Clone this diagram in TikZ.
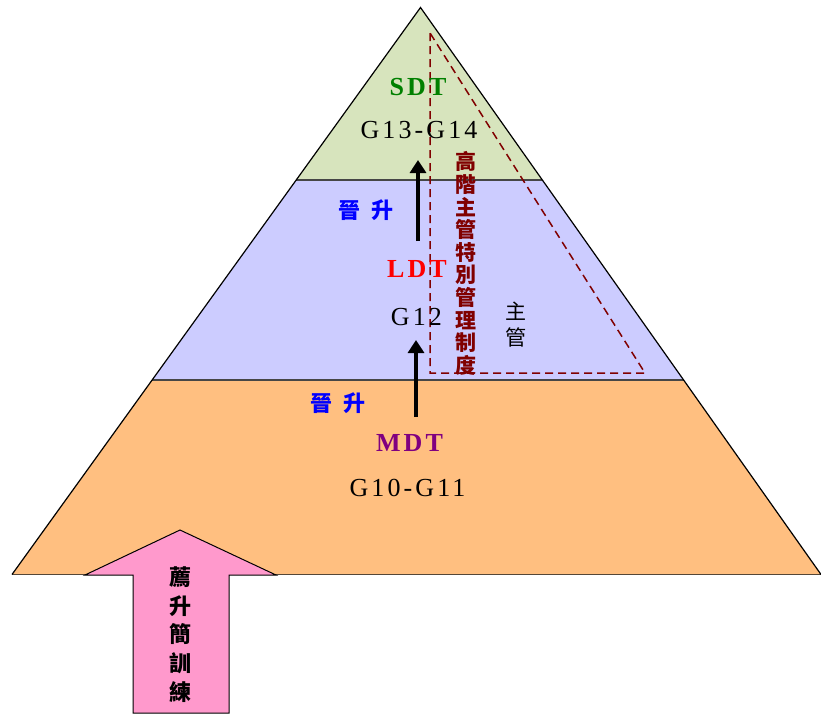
\documentclass[tikz,border=0pt]{standalone}
\usepackage{fontspec}
\setmainfont{Liberation Serif}
\newfontfamily\latsp[LetterSpace=12]{Liberation Serif}
\newfontfamily\cjk{Noto Sans CJK TC}
\usetikzlibrary{arrows.meta}
\definecolor{bandgreen}{RGB}{215,228,189}
\definecolor{bandviolet}{RGB}{204,204,255}
\definecolor{bandorange}{RGB}{255,191,128}
\definecolor{arrowpink}{RGB}{255,153,204}
\definecolor{sdtgreen}{RGB}{0,128,0}
\definecolor{mdtpurple}{RGB}{128,0,128}
\definecolor{mgmtred}{RGB}{128,0,0}
\definecolor{seamgrey}{RGB}{70,70,70}
\definecolor{basebrown}{RGB}{85,70,55}
\tikzset{
  side/.style={draw=black,line width=1.2pt,line join=miter},
  seam/.style={draw=seamgrey,line width=1.2pt},
  promo/.style={line width=4pt,-{Triangle[width=16pt,length=13pt]}},
  lvl/.style={anchor=base,inner sep=0pt,font=\latsp\bfseries\fontsize{26}{26}\selectfont},
  grade/.style={anchor=base,inner sep=0pt,font=\latsp\fontsize{26}{26}\selectfont},
  cnlabel/.style={inner sep=0pt,align=center},
}
\begin{document}
\begin{tikzpicture}[x=1pt,y=-1pt]
\useasboundingbox (0,0) rectangle (821,715);
% pyramid corners
\coordinate (apex) at (420.5,7.5);
\coordinate (gL) at (296.2,180);
\coordinate (gR) at (542.3,180);
\coordinate (pL) at (152.1,380);
\coordinate (pR) at (683.6,380);
\coordinate (bL) at (12,574.5);
\coordinate (bR) at (821,574.5);
% three bands
\fill[bandgreen] (apex) -- (gR) -- (gL) -- cycle;
\fill[bandviolet] (gL) -- (gR) -- (pR) -- (pL) -- cycle;
\fill[bandorange] (pL) -- (pR) -- (bR) -- (bL) -- cycle;
\draw[seam] (gL) -- (gR);
\draw[seam] (pL) -- (pR);
\draw[draw=basebrown,line width=1.4pt] (bL) -- (bR);
\draw[side] (bL) -- (apex) -- (bR);
% senior management zone
\draw[mgmtred,line width=1.5pt,dash pattern=on 8pt off 5pt]
  (430,33) -- (430,373) -- (645,373) -- cycle;
% promotion training arrow
\draw[fill=arrowpink,draw=black,line width=1pt,line join=miter]
  (180,530) -- (276,575) -- (229,575) -- (229,713) -- (133,713)
  -- (133,575) -- (85,575) -- cycle;
% level labels
\node[lvl,text=sdtgreen] (sdt) at (418,95) {SDT};
\node[grade] (g1314) at (419,138) {G13-G14};
\node[lvl,text=red] (ldt) at (417,277.5) {LDT};
\node[grade] (g12) at (416.5,325) {G12};
\node[lvl,text=mdtpurple] (mdt) at (409.5,451.5) {MDT};
\node[grade] (g1011) at (407.5,496.5) {G10-G11};
% promotion arrows
\coordinate (up1s) at (418,241);
\coordinate (up1e) at (418,160);
\coordinate (up2s) at (416,417);
\coordinate (up2e) at (416,340);
\draw[promo] (up1s) -- (up1e);
\draw[promo] (up2s) -- (up2e);
\node[cnlabel,text=blue,font=\cjk\bfseries\fontsize{22}{22}\selectfont] (promo1) at (366,210) {晉\hspace{11pt}升};
\node[cnlabel,text=blue,font=\cjk\bfseries\fontsize{22}{22}\selectfont] (promo2) at (338,403) {晉\hspace{11pt}升};
% vertical captions
\node[cnlabel,text=mgmtred,font=\cjk\bfseries\fontsize{21}{22.6}\selectfont] (senior) at (466,263.5)
  {高\\階\\主\\管\\特\\別\\管\\理\\制\\度};
\node[cnlabel,font=\cjk\fontsize{21}{26}\selectfont] (mgr) at (516,325) {主\\管};
\node[cnlabel,font=\cjk\bfseries\fontsize{22}{28.7}\selectfont] (train) at (180,634.5)
  {薦\\升\\簡\\訓\\練};
\end{tikzpicture}
\end{document}
